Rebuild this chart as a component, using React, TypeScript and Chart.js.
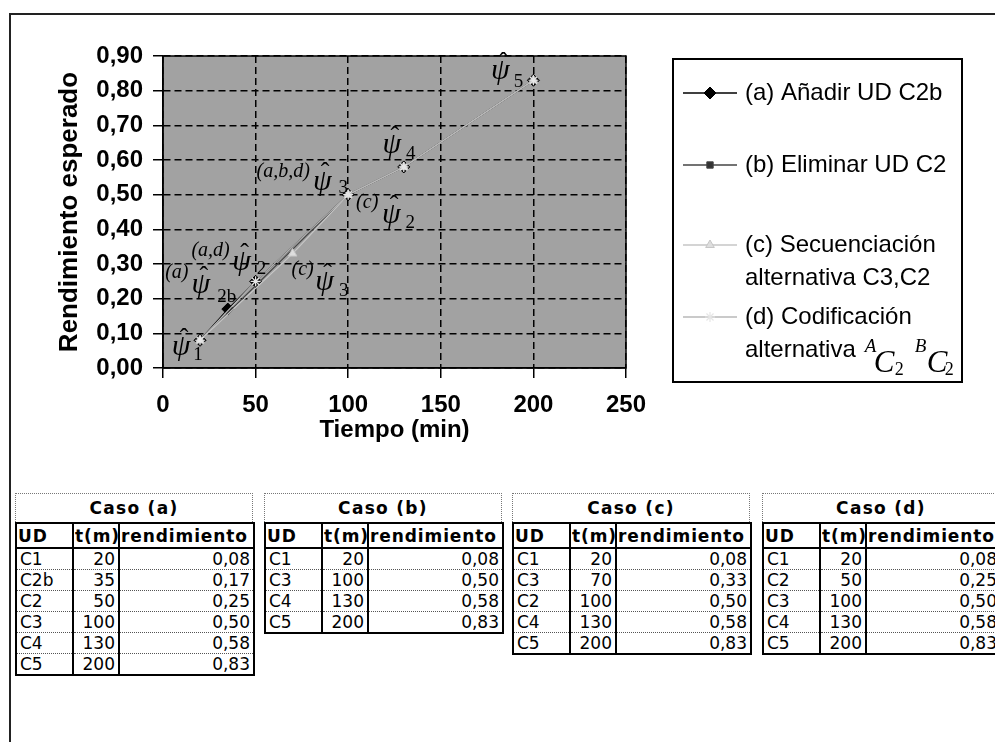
import React, { useEffect, useRef } from "react";
import { Chart, registerables } from "chart.js";
import { drawPoint } from "chart.js/helpers";

Chart.register(...registerables);

// ---------------- data ----------------
const xTickValues = [0, 50, 100, 150, 200, 250];
const yTickValues = [0, 0.1, 0.2, 0.3, 0.4, 0.5, 0.6, 0.7, 0.8, 0.9];

const caseA_ud = ["C1", "C2b", "C2", "C3", "C4", "C5"];
const caseA_t = [20, 35, 50, 100, 130, 200];
const caseA_r = [0.08, 0.17, 0.25, 0.5, 0.58, 0.83];

const caseB_ud = ["C1", "C3", "C4", "C5"];
const caseB_t = [20, 100, 130, 200];
const caseB_r = [0.08, 0.5, 0.58, 0.83];

const caseC_ud = ["C1", "C3", "C2", "C4", "C5"];
const caseC_t = [20, 70, 100, 130, 200];
const caseC_r = [0.08, 0.33, 0.5, 0.58, 0.83];

const caseD_ud = ["C1", "C2", "C3", "C4", "C5"];
const caseD_t = [20, 50, 100, 130, 200];
const caseD_r = [0.08, 0.25, 0.5, 0.58, 0.83];

const seriesNames = [
  "(a) Añadir UD C2b",
  "(b) Eliminar UD C2",
  "(c) Secuenciación alternativa C3,C2",
  "(d) Codificación alternativa",
];
const legendLines = [
  ["(a) Añadir UD C2b"],
  ["(b) Eliminar UD C2"],
  ["(c) Secuenciación", "alternativa C3,C2"],
  ["(d) Codificación", "alternativa"],
];
const caseTitles = ["Caso (a)", "Caso (b)", "Caso (c)", "Caso (d)"];
const colHeaders = ["UD", "t(m)", "rendimiento"];

// annotation labels (anchored to data points)
const psiPoints = [
  { x: 20, y: 0.08, tag: "", sub: "1" },
  { x: 35, y: 0.17, tag: "(a)", sub: "2b" },
  { x: 50, y: 0.25, tag: "(a,d)", sub: "2" },
  { x: 70, y: 0.33, tag: "(c)", sub: "3" },
  { x: 100, y: 0.5, tag: "(a,b,d)", sub: "3" },
  { x: 100, y: 0.5, tag: "(c)", sub: "2" },
  { x: 130, y: 0.58, tag: "", sub: "4" },
  { x: 200, y: 0.83, tag: "", sub: "5" },
];

// ---------------- layout / style ----------------
const psiOffsets = [
  { tag: [0, 0], psi: [-19, 7], sub: [-2, 15] },
  { tag: [-51, -36], psi: [-27, -24], sub: [-1, -12] },
  { tag: [-45, -31], psi: [-14, -19], sub: [6, -12] },
  { tag: [10, 16], psi: [32, 29], sub: [51, 37] },
  { tag: [-65, -23], psi: [-26, -13], sub: [-5, -7] },
  { tag: [19, 8], psi: [43, 20], sub: [62, 28] },
  { tag: [0, 0], psi: [-12, -22], sub: [7, -13] },
  { tag: [0, 0], psi: [-33, -9], sub: [-15, 2] },
];

const SANS = '"Liberation Sans", Arial, Helvetica, sans-serif';
const SERIF = '"Liberation Serif", "Times New Roman", serif';
const TABLE_FONT = '"DejaVu Sans", Verdana, sans-serif';

const fmt = (v: number) => v.toFixed(2).replace(".", ",");

const toPts = (t: number[], r: number[]) => t.map((v, i) => ({ x: v, y: r[i] }));

const bgPlugin = {
  id: "plotBg",
  beforeDraw(chart: any) {
    const { ctx, chartArea: a } = chart;
    ctx.save();
    ctx.fillStyle = "#a2a2a2";
    ctx.fillRect(a.left, a.top, a.right - a.left, a.bottom - a.top);
    ctx.restore();
  },
  beforeDatasetsDraw(chart: any) {
    const { ctx, chartArea: a } = chart;
    ctx.save();
    ctx.strokeStyle = "#000";
    ctx.lineWidth = 1.5;
    ctx.strokeRect(a.left, a.top, a.right - a.left, a.bottom - a.top);
    ctx.restore();
  },
};

const psiPlugin = {
  id: "psiLabels",
  afterDatasetsDraw(chart: any) {
    const { ctx } = chart;
    const xs = chart.scales.x;
    const ys = chart.scales.y;
    ctx.save();
    ctx.fillStyle = "#000";
    ctx.textAlign = "center";
    ctx.textBaseline = "middle";
    psiPoints.forEach((p, i) => {
      const o = psiOffsets[i];
      const px = xs.getPixelForValue(p.x);
      const py = ys.getPixelForValue(p.y);
      if (p.tag) {
        ctx.font = `italic 20px ${SERIF}`;
        ctx.fillText(p.tag, px + o.tag[0], py + o.tag[1]);
      }
      ctx.font = `italic 30px ${SERIF}`;
      ctx.fillText("ψ", px + o.psi[0], py + o.psi[1]);
      ctx.font = `26px ${SERIF}`;
      ctx.fillText("ˆ", px + o.psi[0] + 3, py + o.psi[1] - 8);
      ctx.font = `19px ${SERIF}`;
      ctx.fillText(p.sub, px + o.sub[0], py + o.sub[1]);
    });
    ctx.restore();
  },
};

const legendPlugin = {
  id: "boxLegend",
  afterDraw(chart: any) {
    const { ctx, chartArea: a } = chart;
    const L = a.right + 47;
    const T = a.top + 3;
    const W = 289;
    const H = 323;
    ctx.save();
    ctx.fillStyle = "#fff";
    ctx.fillRect(L, T, W, H);
    ctx.strokeStyle = "#000";
    ctx.lineWidth = 2;
    ctx.strokeRect(L, T, W, H);
    const rowY = [34, 106, 186, 258];
    const lineGap = 33;
    chart.data.datasets.forEach((ds: any, i: number) => {
      const y = T + rowY[i];
      ctx.save();
      ctx.strokeStyle = ds.borderColor;
      ctx.lineWidth = Math.max(ds.borderWidth, 1.5);
      ctx.beginPath();
      ctx.moveTo(L + 10, y);
      ctx.lineTo(L + 64, y);
      ctx.stroke();
      ctx.fillStyle = ds.pointBackgroundColor || ds.backgroundColor;
      ctx.strokeStyle = ds.pointBorderColor || ds.borderColor;
      ctx.lineWidth = ds.pointBorderWidth || 1;
      drawPoint(ctx, { pointStyle: ds.pointStyle, radius: ds.pointRadius, rotation: 0, borderWidth: ds.pointBorderWidth || 1 }, L + 37, y);
      ctx.restore();
      ctx.fillStyle = "#000";
      ctx.font = `24px ${SANS}`;
      ctx.textAlign = "left";
      ctx.textBaseline = "middle";
      legendLines[i].forEach((txt, k) => {
        ctx.fillText(txt, L + 72, y + k * lineGap);
      });
      if (i === 3) {
        const y2 = y + lineGap;
        const x0 = L + 72 + ctx.measureText(legendLines[3][1]).width;
        ctx.textBaseline = "alphabetic";
        ctx.font = `italic 19px ${SERIF}`;
        ctx.fillText("A", x0 + 9, y2 + 2);
        ctx.fillText("B", x0 + 59, y2 + 2);
        ctx.font = `italic 31px ${SERIF}`;
        ctx.fillText("C", x0 + 18, y2 + 22);
        ctx.fillText("C", x0 + 71, y2 + 22);
        ctx.font = `18px ${SERIF}`;
        ctx.fillText("2", x0 + 39, y2 + 25);
        ctx.fillText("2", x0 + 89, y2 + 25);
      }
    });
    ctx.restore();
  },
};

function ChartCanvas() {
  const ref = useRef<HTMLCanvasElement | null>(null);
  useEffect(() => {
    document.body.style.margin = "0";
    const canvas = ref.current;
    if (!canvas) return;
    const tickFont = { family: SANS, size: 24, weight: "bold" as const, lineHeight: 1.2 };
    const chart = new Chart(canvas, {
      type: "line",
      data: {
        datasets: [
          {
            label: seriesNames[0],
            data: toPts(caseA_t, caseA_r),
            borderColor: "#000",
            backgroundColor: "#000",
            borderWidth: 1.2,
            pointStyle: "rectRot",
            pointRadius: 6,
            pointBorderWidth: 1,
            order: 4,
          },
          {
            label: seriesNames[1],
            data: toPts(caseB_t, caseB_r),
            borderColor: "#444",
            backgroundColor: "#333",
            borderWidth: 1.2,
            pointStyle: "rect",
            pointRadius: 4.5,
            pointBorderWidth: 1,
            order: 3,
          },
          {
            label: seriesNames[2],
            data: toPts(caseC_t, caseC_r),
            borderColor: "#c6c6c6",
            backgroundColor: "#dedede",
            borderWidth: 1.2,
            pointStyle: "triangle",
            pointRadius: 5,
            pointBorderWidth: 1,
            order: 2,
          },
          {
            label: seriesNames[3],
            data: toPts(caseD_t, caseD_r),
            borderColor: "#b8b8b8",
            backgroundColor: "#e6e6e6",
            pointBorderColor: "#e6e6e6",
            borderWidth: 1.2,
            pointStyle: "star",
            pointRadius: 5,
            pointBorderWidth: 1.2,
            order: 1,
          },
        ] as any,
      },
      options: {
        responsive: false,
        animation: false,
        layout: { padding: { left: 0, top: 56, right: 369, bottom: 0 } },
        plugins: { legend: { display: false }, tooltip: { enabled: false } },
        elements: { line: { tension: 0 } },
        scales: {
          x: {
            type: "linear",
            min: 0,
            max: 250,
            afterBuildTicks: (s: any) => {
              s.ticks = xTickValues.map((v) => ({ value: v }));
            },
            ticks: {
              color: "#000",
              font: tickFont,
              padding: 13,
              maxRotation: 0,
              autoSkip: false,
              callback: (v: any) => String(v),
            },
            grid: { color: "#000", lineWidth: 1.5, tickLength: 10, tickColor: "#000", tickWidth: 1.5, tickBorderDash: [] },
            border: { display: true, color: "#000", width: 1.5, dash: [7, 4] },
            title: {
              display: true,
              text: "Tiempo (min)",
              color: "#000",
              font: { family: SANS, size: 24, weight: "bold", lineHeight: 1.2 },
              padding: { top: 0, bottom: 15 },
            },
            afterFit: (s: any) => {
              s.height = 92;
            },
          },
          y: {
            type: "linear",
            min: 0,
            max: 0.9,
            afterBuildTicks: (s: any) => {
              s.ticks = yTickValues.map((v) => ({ value: v }));
            },
            ticks: {
              color: "#000",
              font: tickFont,
              padding: 10,
              autoSkip: false,
              callback: (v: any) => fmt(Number(v)),
            },
            grid: { color: "#000", lineWidth: 1.5, tickLength: 10, tickColor: "#000", tickWidth: 1.5, tickBorderDash: [] },
            border: { display: true, color: "#000", width: 1.5, dash: [7, 4] },
            title: {
              display: true,
              text: "Rendimiento esperado",
              color: "#000",
              font: { family: SANS, size: 26, weight: "bold", lineHeight: 1.2 },
              padding: { top: 54, bottom: 0 },
            },
            afterFit: (s: any) => {
              s.width = 163;
            },
          },
        },
      } as any,
      plugins: [bgPlugin, psiPlugin, legendPlugin],
    });
    return () => chart.destroy();
  }, []);
  return (
    <canvas
      ref={ref}
      width={995}
      height={460}
      style={{ position: "absolute", left: 0, top: 0, width: 995, height: 460 }}
    />
  );
}

const colW = [57, 46, 135];

function CaseTable(props: { title: string; ud: string[]; t: number[]; r: number[]; left: number }) {
  const { title, ud, t, r, left } = props;
  const total = colW[0] + colW[1] + colW[2];
  const thBase: React.CSSProperties = {
    fontWeight: "bold",
    fontSize: 17,
    letterSpacing: 0.9,
    padding: "0 1px",
    height: 23,
    borderBottom: "2px solid #000",
    whiteSpace: "nowrap",
    overflow: "hidden",
    textAlign: "left",
  };
  const tdBase: React.CSSProperties = {
    padding: "0 3px",
    height: 20,
    lineHeight: "20px",
    borderTop: "1px dotted #555",
    whiteSpace: "nowrap",
    overflow: "hidden",
  };
  return (
    <div style={{ position: "absolute", left, top: 493, width: total }}>
      <div
        style={{
          height: 29,
          boxSizing: "border-box",
          border: "1px dotted #777",
          borderBottom: "none",
          display: "flex",
          alignItems: "center",
          justifyContent: "center",
          fontFamily: TABLE_FONT,
          fontWeight: "bold",
          fontSize: 17,
          letterSpacing: 1.3,
          color: "#000",
        }}
      >
        {title}
      </div>
      <table
        style={{
          borderCollapse: "collapse",
          tableLayout: "fixed",
          width: total,
          border: "2px solid #000",
          fontFamily: TABLE_FONT,
          fontSize: 17,
          color: "#000",
        }}
      >
        <colgroup>
          {colW.map((w, i) => (
            <col key={i} style={{ width: w }} />
          ))}
        </colgroup>
        <thead>
          <tr>
            {colHeaders.map((h, i) => (
              <th key={h} style={{ ...thBase, borderRight: i < 2 ? "2px solid #000" : "none" }}>
                {h}
              </th>
            ))}
          </tr>
        </thead>
        <tbody>
          {ud.map((u, i) => (
            <tr key={u}>
              <td style={{ ...tdBase, textAlign: "left", borderRight: "2px solid #000" }}>{u}</td>
              <td style={{ ...tdBase, textAlign: "right", borderRight: "2px solid #000" }}>{t[i]}</td>
              <td style={{ ...tdBase, textAlign: "right" }}>{fmt(r[i])}</td>
            </tr>
          ))}
        </tbody>
      </table>
    </div>
  );
}

export default function App() {
  return (
    <div style={{ position: "relative", width: 995, height: 742, overflow: "hidden", background: "#fff" }}>
      <div
        style={{
          position: "absolute",
          left: 9,
          top: 13,
          width: 1000,
          height: 760,
          borderTop: "2px solid #222",
          borderLeft: "2px solid #222",
        }}
      />
      <ChartCanvas />
      <CaseTable title={caseTitles[0]} ud={caseA_ud} t={caseA_t} r={caseA_r} left={15} />
      <CaseTable title={caseTitles[1]} ud={caseB_ud} t={caseB_t} r={caseB_r} left={264} />
      <CaseTable title={caseTitles[2]} ud={caseC_ud} t={caseC_t} r={caseC_r} left={512} />
      <CaseTable title={caseTitles[3]} ud={caseD_ud} t={caseD_t} r={caseD_r} left={762} />
    </div>
  );
}
